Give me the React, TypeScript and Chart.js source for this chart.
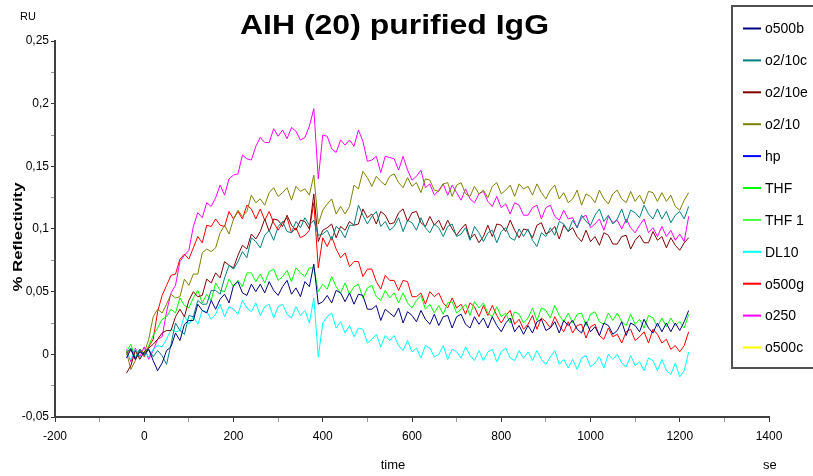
import React, { useEffect, useRef } from "react";
import { Chart, registerables } from "chart.js";
Chart.register(...registerables);

// time (s)
const time = [
  -40, -30, -20, -10, 0, 10, 20, 30, 40, 50,
  60, 70, 80, 90, 100, 110, 120, 130, 140, 150,
  160, 170, 180, 190, 200, 210, 220, 230, 240, 250,
  260, 270, 280, 290, 300, 310, 320, 330, 340, 350,
  360, 370, 380, 390, 400, 410, 420, 430, 440, 450,
  460, 470, 480, 490, 500, 510, 520, 530, 540, 550,
  560, 570, 580, 590, 600, 610, 620, 630, 640, 650,
  660, 670, 680, 690, 700, 710, 720, 730, 740, 750,
  760, 770, 780, 790, 800, 810, 820, 830, 840, 850,
  860, 870, 880, 890, 900, 910, 920, 930, 940, 950,
  960, 970, 980, 990, 1000, 1010, 1020, 1030, 1040, 1050,
  1060, 1070, 1080, 1090, 1100, 1110, 1120, 1130, 1140, 1150,
  1160, 1170, 1180, 1190, 1200, 1210, 1220,
];

const o500b = [
  -0.003, 0.004, -0.004, 0.002, 0.000, 0.004, -0.005, -0.013, -0.007, 0.003,
  0.006, 0.017, 0.011, 0.024, 0.027, 0.027, 0.040, 0.035, 0.033, 0.043,
  0.036, 0.044, 0.048, 0.041, 0.055, 0.058, 0.049, 0.047, 0.056, 0.050,
  0.056, 0.049, 0.058, 0.051, 0.047, 0.054, 0.059, 0.048, 0.053, 0.046,
  0.058, 0.054, 0.072, 0.040, 0.042, 0.047, 0.041, 0.051, 0.049, 0.042,
  0.049, 0.040, 0.048, 0.047, 0.036, 0.036, 0.039, 0.027, 0.036, 0.033,
  0.030, 0.037, 0.025, 0.034, 0.031, 0.026, 0.035, 0.028, 0.024, 0.032,
  0.023, 0.030, 0.031, 0.021, 0.030, 0.032, 0.024, 0.021, 0.030, 0.024,
  0.029, 0.021, 0.030, 0.023, 0.018, 0.025, 0.029, 0.018, 0.023, 0.016,
  0.023, 0.017, 0.026, 0.028, 0.019, 0.021, 0.026, 0.017, 0.027, 0.023,
  0.027, 0.020, 0.017, 0.026, 0.018, 0.022, 0.015, 0.025, 0.023, 0.016,
  0.019, 0.026, 0.015, 0.025, 0.023, 0.018, 0.028, 0.021, 0.017, 0.025,
  0.018, 0.025, 0.018, 0.025, 0.019, 0.026, 0.035,
];

const o2_10c = [
  0.001, 0.005, -0.003, 0.004, -0.001, 0.004, -0.002, 0.003, -0.001, -0.008,
  0.008, 0.025, 0.019, 0.016, 0.031, 0.030, 0.043, 0.040, 0.040, 0.051,
  0.051, 0.048, 0.061, 0.071, 0.068, 0.074, 0.082, 0.077, 0.093, 0.090,
  0.085, 0.095, 0.099, 0.091, 0.102, 0.106, 0.098, 0.097, 0.106, 0.101,
  0.109, 0.103, 0.107, 0.095, 0.096, 0.099, 0.091, 0.102, 0.099, 0.093,
  0.103, 0.103, 0.119, 0.111, 0.104, 0.110, 0.114, 0.102, 0.106, 0.099,
  0.102, 0.109, 0.098, 0.107, 0.105, 0.099, 0.109, 0.101, 0.097, 0.104,
  0.101, 0.094, 0.102, 0.104, 0.094, 0.096, 0.101, 0.091, 0.102, 0.097,
  0.090, 0.097, 0.099, 0.089, 0.098, 0.101, 0.093, 0.091, 0.100, 0.094,
  0.100, 0.091, 0.086, 0.097, 0.094, 0.101, 0.095, 0.106, 0.104, 0.098,
  0.107, 0.101, 0.111, 0.106, 0.103, 0.111, 0.116, 0.106, 0.111, 0.104,
  0.108, 0.116, 0.105, 0.115, 0.113, 0.109, 0.119, 0.112, 0.108, 0.116,
  0.108, 0.114, 0.105, 0.111, 0.114, 0.108, 0.118,
];

const o2_10e = [
  -0.015, -0.009, 0.003, -0.004, 0.002, 0.005, 0.008, 0.012, 0.017, 0.019,
  0.019, 0.030, 0.036, 0.030, 0.043, 0.050, 0.046, 0.047, 0.060, 0.057,
  0.065, 0.061, 0.074, 0.071, 0.069, 0.079, 0.087, 0.084, 0.096, 0.092,
  0.098, 0.108, 0.098, 0.108, 0.107, 0.102, 0.111, 0.103, 0.099, 0.107,
  0.106, 0.100, 0.128, 0.090, 0.099, 0.101, 0.104, 0.093, 0.102, 0.099,
  0.106, 0.103, 0.104, 0.116, 0.109, 0.112, 0.104, 0.114, 0.111, 0.104,
  0.105, 0.113, 0.116, 0.106, 0.113, 0.114, 0.105, 0.102, 0.110, 0.103,
  0.107, 0.099, 0.107, 0.100, 0.095, 0.100, 0.104, 0.092, 0.096, 0.089,
  0.094, 0.103, 0.094, 0.104, 0.103, 0.098, 0.107, 0.099, 0.093, 0.100,
  0.099, 0.093, 0.103, 0.105, 0.096, 0.098, 0.102, 0.092, 0.103, 0.098,
  0.101, 0.094, 0.090, 0.099, 0.090, 0.094, 0.087, 0.097, 0.095, 0.088,
  0.088, 0.094, 0.095, 0.084, 0.091, 0.095, 0.089, 0.089, 0.098, 0.091,
  0.094, 0.085, 0.093, 0.087, 0.083, 0.089, 0.093,
];

const o2_10 = [
  0.002, -0.012, -0.005, 0.004, 0.001, 0.012, 0.030, 0.036, 0.033, 0.040,
  0.048, 0.045, 0.046, 0.060, 0.055, 0.064, 0.064, 0.081, 0.084, 0.082,
  0.085, 0.097, 0.103, 0.096, 0.108, 0.115, 0.110, 0.114, 0.127, 0.121,
  0.124, 0.119, 0.129, 0.133, 0.126, 0.129, 0.133, 0.123, 0.134, 0.130,
  0.132, 0.127, 0.143, 0.104, 0.115, 0.120, 0.124, 0.112, 0.118, 0.112,
  0.118, 0.135, 0.132, 0.146, 0.141, 0.134, 0.142, 0.138, 0.135, 0.142,
  0.144, 0.137, 0.133, 0.141, 0.134, 0.137, 0.129, 0.140, 0.139, 0.131,
  0.130, 0.136, 0.137, 0.126, 0.135, 0.137, 0.128, 0.126, 0.134, 0.128,
  0.131, 0.125, 0.134, 0.137, 0.128, 0.131, 0.135, 0.126, 0.136, 0.132,
  0.134, 0.127, 0.136, 0.129, 0.124, 0.131, 0.135, 0.124, 0.129, 0.121,
  0.124, 0.131, 0.119, 0.128, 0.126, 0.121, 0.131, 0.124, 0.120, 0.128,
  0.131, 0.124, 0.121, 0.130, 0.122, 0.127, 0.120, 0.130, 0.129, 0.122,
  0.129, 0.122, 0.127, 0.118, 0.115, 0.123, 0.129,
];

const hp: number[] = [];

const THF = [
  0.002, 0.008, -0.003, 0.004, -0.001, 0.007, 0.015, 0.021, 0.028, 0.030,
  0.036, 0.033, 0.045, 0.039, 0.037, 0.045, 0.051, 0.041, 0.048, 0.043,
  0.057, 0.051, 0.050, 0.060, 0.054, 0.059, 0.054, 0.065, 0.065, 0.058,
  0.064, 0.057, 0.066, 0.068, 0.059, 0.062, 0.067, 0.058, 0.069, 0.065,
  0.062, 0.069, 0.069, 0.050, 0.056, 0.052, 0.062, 0.054, 0.049, 0.057,
  0.048, 0.054, 0.056, 0.045, 0.053, 0.055, 0.046, 0.043, 0.051, 0.045,
  0.049, 0.041, 0.049, 0.041, 0.037, 0.043, 0.047, 0.036, 0.040, 0.033,
  0.039, 0.032, 0.041, 0.042, 0.033, 0.036, 0.040, 0.031, 0.042, 0.037,
  0.041, 0.033, 0.030, 0.038, 0.030, 0.033, 0.025, 0.034, 0.032, 0.025,
  0.029, 0.037, 0.027, 0.037, 0.035, 0.029, 0.039, 0.031, 0.026, 0.033,
  0.025, 0.032, 0.033, 0.023, 0.032, 0.034, 0.026, 0.024, 0.033, 0.027,
  0.033, 0.026, 0.023, 0.032, 0.024, 0.028, 0.021, 0.031, 0.029, 0.022,
  0.029, 0.022, 0.029, 0.023, 0.026, 0.021, 0.032,
];

const THF_1: number[] = [];

const DL10 = [
  0.001, -0.004, 0.004, -0.003, 0.002, -0.002, 0.004, 0.007, 0.006, 0.012,
  0.020, 0.018, 0.019, 0.031, 0.024, 0.030, 0.024, 0.035, 0.034, 0.028,
  0.032, 0.040, 0.030, 0.038, 0.036, 0.032, 0.043, 0.037, 0.034, 0.041,
  0.031, 0.038, 0.040, 0.029, 0.038, 0.040, 0.032, 0.029, 0.038, 0.031,
  0.035, 0.025, 0.045, -0.002, 0.025, 0.030, 0.033, 0.021, 0.026, 0.017,
  0.023, 0.014, 0.021, 0.020, 0.009, 0.012, 0.016, 0.006, 0.015, 0.011,
  0.015, 0.007, 0.003, 0.011, 0.002, 0.005, -0.003, 0.007, 0.005, -0.002,
  0.000, 0.007, -0.004, 0.004, 0.002, -0.003, 0.006, -0.001, -0.005, 0.003,
  -0.005, 0.002, 0.004, -0.006, 0.002, 0.005, -0.003, -0.005, 0.003, -0.003,
  0.002, -0.005, 0.003, -0.004, -0.008, -0.002, 0.003, -0.008, -0.004, -0.011,
  -0.004, -0.012, -0.003, -0.001, -0.010, -0.007, -0.002, -0.011, 0.000, -0.004,
  0.000, -0.007, -0.010, -0.001, -0.009, -0.006, -0.013, -0.003, -0.005, -0.013,
  -0.004, -0.013, -0.016, -0.007, -0.018, -0.013, 0.002,
];

const o500g = [
  0.000, 0.004, -0.004, 0.003, -0.002, 0.006, 0.012, 0.034, 0.047, 0.055,
  0.063, 0.064, 0.076, 0.080, 0.076, 0.085, 0.094, 0.089, 0.103, 0.102,
  0.108, 0.103, 0.102, 0.114, 0.108, 0.114, 0.108, 0.119, 0.116, 0.108,
  0.116, 0.107, 0.114, 0.105, 0.099, 0.105, 0.109, 0.097, 0.101, 0.093,
  0.095, 0.099, 0.121, 0.069, 0.093, 0.086, 0.094, 0.084, 0.077, 0.081,
  0.070, 0.074, 0.074, 0.062, 0.068, 0.068, 0.058, 0.052, 0.063, 0.059,
  0.059, 0.051, 0.059, 0.058, 0.046, 0.046, 0.049, 0.040, 0.050, 0.046,
  0.049, 0.041, 0.037, 0.045, 0.037, 0.040, 0.032, 0.041, 0.038, 0.030,
  0.039, 0.031, 0.039, 0.031, 0.025, 0.031, 0.035, 0.024, 0.028, 0.020,
  0.024, 0.031, 0.020, 0.029, 0.026, 0.021, 0.030, 0.023, 0.018, 0.026,
  0.017, 0.023, 0.024, 0.013, 0.022, 0.024, 0.015, 0.012, 0.021, 0.014,
  0.016, 0.009, 0.018, 0.020, 0.011, 0.014, 0.018, 0.009, 0.020, 0.016,
  0.009, 0.012, 0.004, 0.007, 0.002, 0.007, 0.018,
];

const o250 = [
  0.004, -0.006, 0.005, -0.002, 0.006, -0.004, 0.003, 0.012, 0.014, 0.034,
  0.049, 0.055, 0.074, 0.079, 0.083, 0.102, 0.113, 0.109, 0.121, 0.118,
  0.125, 0.135, 0.127, 0.140, 0.143, 0.144, 0.159, 0.156, 0.155, 0.166,
  0.173, 0.169, 0.169, 0.180, 0.174, 0.179, 0.172, 0.181, 0.178, 0.171,
  0.173, 0.182, 0.196, 0.140, 0.175, 0.174, 0.164, 0.161, 0.171, 0.167,
  0.171, 0.166, 0.179, 0.170, 0.154, 0.155, 0.158, 0.145, 0.158, 0.157,
  0.156, 0.147, 0.158, 0.147, 0.139, 0.142, 0.147, 0.133, 0.136, 0.127,
  0.131, 0.136, 0.127, 0.135, 0.129, 0.123, 0.132, 0.124, 0.121, 0.128,
  0.130, 0.122, 0.118, 0.126, 0.117, 0.120, 0.112, 0.121, 0.119, 0.111,
  0.111, 0.117, 0.119, 0.108, 0.117, 0.119, 0.110, 0.107, 0.115, 0.108,
  0.109, 0.101, 0.109, 0.111, 0.101, 0.104, 0.108, 0.099, 0.110, 0.105,
  0.107, 0.100, 0.108, 0.101, 0.097, 0.103, 0.108, 0.097, 0.101, 0.094,
  0.102, 0.094, 0.099, 0.091, 0.096, 0.090, 0.110,
];

const o500c: number[] = [];

const seriesNames = ["o500b", "o2/10c", "o2/10e", "o2/10", "hp", "THF", "THF 1", "DL10", "o500g", "o250", "o500c"];
const seriesColors = ["#000080", "#008080", "#800000", "#808000", "#0000ff", "#00ff00", "#40ff40", "#00ffff", "#ff0000", "#ff00ff", "#ffff00"];
const seriesValues = [o500b, o2_10c, o2_10e, o2_10, hp, THF, THF_1, DL10, o500g, o250, o500c];

const xTickValues = [-200, -100, 0, 100, 200, 300, 400, 500, 600, 700, 800, 900, 1000, 1100, 1200, 1300, 1400];
const xLabelledTicks = [-200, 0, 200, 400, 600, 800, 1000, 1200, 1400];
const yTickValues = [-0.05, -0.025, 0, 0.025, 0.05, 0.075, 0.1, 0.125, 0.15, 0.175, 0.2, 0.225, 0.25];
const yLabelledTicks = [-0.05, 0, 0.05, 0.1, 0.15, 0.2, 0.25];

const titleText = "AIH (20) purified IgG";
const yAxisTitle = "% Reflectivity";
const yUnit = "RU";
const xAxisTitle = "time";
const xUnit = "sec";

const NARROW = "'Liberation Sans Narrow', 'Arial Narrow', 'Liberation Sans', Arial, sans-serif";
const SANS = "'Liberation Sans', Arial, sans-serif";

const isLabelled = (list: number[], v: number) => list.some((t) => Math.abs(t - v) < 1e-9);
const fmt = (v: number) => String(Number(v.toFixed(3))).replace(".", ",");

const decorPlugin = {
  id: "decor",
  afterDraw(chart: any) {
    const ctx = chart.ctx as CanvasRenderingContext2D;
    ctx.save();
    ctx.fillStyle = "#000";

    // Title (stretched to reference width)
    ctx.font = `bold 28px ${SANS}`;
    const tw = ctx.measureText(titleText).width;
    ctx.save();
    ctx.translate(394.5, 34);
    ctx.scale(309 / tw, 1);
    ctx.textAlign = "center";
    ctx.textBaseline = "alphabetic";
    ctx.fillText(titleText, 0, 0);
    ctx.restore();

    // RU
    ctx.font = `11px ${NARROW}`;
    ctx.textAlign = "center";
    ctx.textBaseline = "middle";
    ctx.fillText(yUnit, 28, 17);

    // Y axis title (rotated)
    ctx.font = `bold 13px ${SANS}`;
    const yw = ctx.measureText(yAxisTitle).width;
    ctx.save();
    ctx.translate(18, 237);
    ctx.rotate(-Math.PI / 2);
    ctx.scale(109 / yw, 1);
    ctx.textAlign = "center";
    ctx.textBaseline = "middle";
    ctx.fillText(yAxisTitle, 0, 0);
    ctx.restore();

    // X axis title + unit
    ctx.font = `13px ${NARROW}`;
    ctx.textAlign = "center";
    ctx.textBaseline = "middle";
    ctx.fillText(xAxisTitle, 393, 465);
    ctx.save();
    ctx.beginPath();
    ctx.rect(750, 450, 26, 26);
    ctx.clip();
    ctx.textAlign = "left";
    ctx.fillText(xUnit, 763, 465);
    ctx.restore();

    // Legend box
    const bx = 732, by = 6, bw = 100, bh = 362;
    ctx.fillStyle = "#fff";
    ctx.fillRect(bx, by, bw, bh);
    ctx.strokeStyle = "#505050";
    ctx.lineWidth = 2;
    ctx.strokeRect(bx, by, bw, bh);
    const ds = chart.data.datasets;
    ctx.font = `14px ${SANS}`;
    ctx.textAlign = "left";
    ctx.textBaseline = "middle";
    for (let i = 0; i < ds.length; i++) {
      const y = 28.5 + i * 31.9;
      ctx.strokeStyle = ds[i].borderColor;
      ctx.lineWidth = 2;
      ctx.beginPath();
      ctx.moveTo(743, y);
      ctx.lineTo(761, y);
      ctx.stroke();
      ctx.fillStyle = "#000";
      ctx.fillText(ds[i].label, 765, y + 1);
    }
    ctx.restore();
  },
};

export default function App() {
  const ref = useRef<HTMLCanvasElement | null>(null);
  useEffect(() => {
    document.body.style.margin = "0";
    const canvas = ref.current!;
    const datasets = seriesNames.map((name, si) => ({
      label: name,
      data: seriesValues[si].map((v, i) => ({ x: time[i], y: v })),
      borderColor: seriesColors[si],
      backgroundColor: seriesColors[si],
      borderWidth: 1,
      pointRadius: 0,
      tension: 0,
      fill: false,
    }));
    const chart = new Chart(canvas, {
      type: "line",
      data: { datasets },
      plugins: [decorPlugin],
      options: {
        animation: false,
        responsive: false,
        maintainAspectRatio: false,
        layout: { padding: { top: 41, right: 44, left: 0, bottom: 0 } },
        plugins: { legend: { display: false }, tooltip: { enabled: false }, title: { display: false } },
        scales: {
          x: {
            type: "linear",
            min: -200,
            max: 1400,
            afterBuildTicks: (scale: any) => {
              scale.ticks = xTickValues.map((v) => ({ value: v }));
            },
            afterFit: (scale: any) => {
              scale.height = 59;
            },
            ticks: {
              autoSkip: false,
              maxRotation: 0,
              padding: 7,
              color: "#000",
              font: { family: NARROW, size: 12 },
              callback: (v: any) => (isLabelled(xLabelledTicks, Number(v)) ? String(v) : ""),
            },
            grid: {
              drawOnChartArea: false,
              drawTicks: true,
              tickLength: 5,
              tickWidth: 1,
              tickColor: (c: any) => (c.tick && isLabelled(xLabelledTicks, c.tick.value) ? "#333" : "#999"),
            },
            border: { display: true, color: "#404040", width: 2 },
          },
          y: {
            type: "linear",
            min: -0.05,
            max: 0.25,
            afterBuildTicks: (scale: any) => {
              scale.ticks = yTickValues.map((v) => ({ value: v }));
            },
            afterFit: (scale: any) => {
              scale.width = 55;
            },
            ticks: {
              autoSkip: false,
              padding: 2,
              color: "#000",
              font: { family: NARROW, size: 12 },
              callback: (v: any) => (isLabelled(yLabelledTicks, Number(v)) ? fmt(Number(v)) : ""),
            },
            grid: {
              drawOnChartArea: false,
              drawTicks: true,
              tickLength: 4,
              tickWidth: 1,
              tickColor: (c: any) => (c.tick && isLabelled(yLabelledTicks, c.tick.value) ? "#333" : "#999"),
            },
            border: { display: true, color: "#404040", width: 2 },
          },
        },
      },
    } as any);
    return () => chart.destroy();
  }, []);
  return (
    <div style={{ position: "absolute", left: 0, top: 0, width: 813, height: 476, background: "#fff" }}>
      <canvas ref={ref} width={813} height={476} style={{ width: 813, height: 476, display: "block" }} />
    </div>
  );
}
